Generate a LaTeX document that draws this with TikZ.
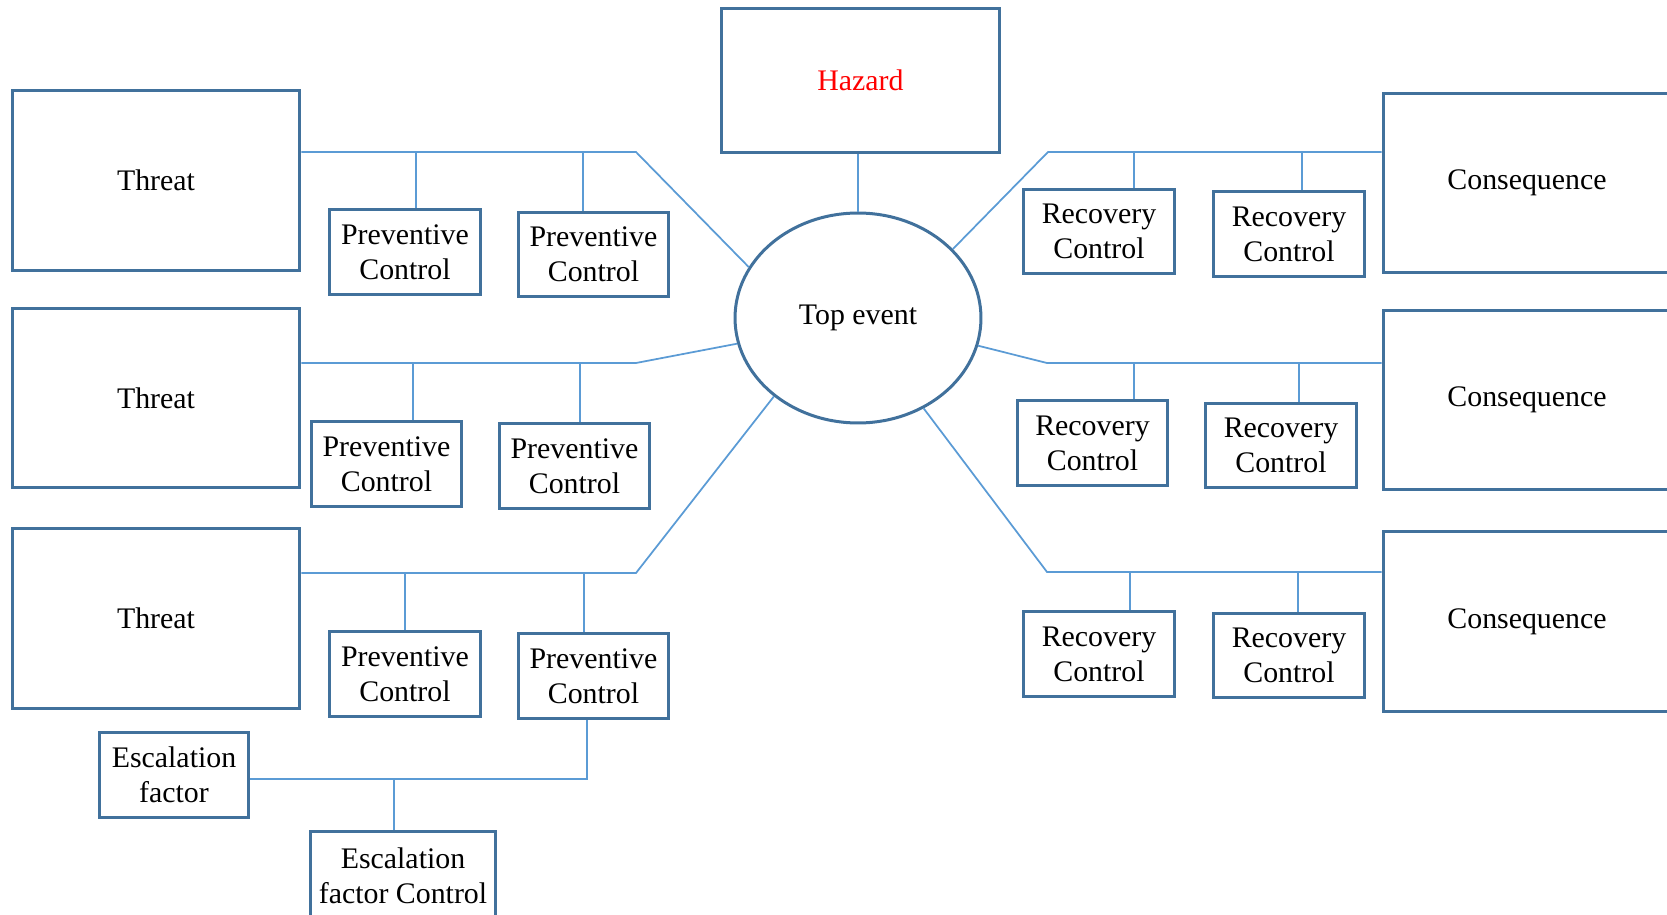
\documentclass[tikz,border=0pt]{standalone}
\usepackage{fontspec}
\setmainfont{Liberation Serif}
\usetikzlibrary{shapes.geometric}
\definecolor{boxblue}{HTML}{41719C}
\definecolor{linkblue}{HTML}{5B9BD5}
\begin{document}
\begin{tikzpicture}[x=0.02cm,y=-0.02cm,
        box/.style={draw=boxblue,line width=0.06cm,align=center,inner sep=0pt,
            font=\fontsize{17}{20}\selectfont},
        bigbox/.style={box,minimum width=5.76cm,minimum height=3.6cm},
        ctrl/.style={box,minimum width=3.02cm,minimum height=1.7cm},
        link/.style={draw=linkblue,line width=0.035cm}]
            \clip (0,0) rectangle (1667,915);
            % hazard and top event
            \node[box,minimum width=5.58cm,minimum height=2.9cm,text=red] (hazard) at (860.5,80.5) {Hazard};
            \node[box,ellipse,minimum width=4.92cm,minimum height=4.2cm] (top) at (858,318) {Top event};
            % threats
            \node[bigbox] (t1) at (156,180.5) {Threat};
            \node[bigbox] (t2) at (156,398) {Threat};
            \node[bigbox] (t3) at (156,618.5) {Threat};
            % consequences
            \node[bigbox] (c1) at (1527,183) {Consequence};
            \node[bigbox] (c2) at (1527,400) {Consequence};
            \node[bigbox] (c3) at (1527,621.5) {Consequence};
            % preventive controls
            \node[ctrl] (pc1a) at (405,252) {Preventive\\Control};
            \node[ctrl] (pc1b) at (593.5,254.5) {Preventive\\Control};
            \node[ctrl] (pc2a) at (386.5,464) {Preventive\\Control};
            \node[ctrl] (pc2b) at (574.5,466) {Preventive\\Control};
            \node[ctrl] (pc3a) at (405,674) {Preventive\\Control};
            \node[ctrl] (pc3b) at (593.5,676) {Preventive\\Control};
            % recovery controls
            \node[ctrl] (rc1a) at (1099,231.5) {Recovery\\Control};
            \node[ctrl] (rc1b) at (1289,234) {Recovery\\Control};
            \node[ctrl] (rc2a) at (1092.5,443) {Recovery\\Control};
            \node[ctrl] (rc2b) at (1281,445.5) {Recovery\\Control};
            \node[ctrl] (rc3a) at (1099,654) {Recovery\\Control};
            \node[ctrl] (rc3b) at (1289,655.5) {Recovery\\Control};
            % escalation
            \node[ctrl,minimum width=3cm] (ef) at (174,775) {Escalation\\factor};
            \node[ctrl,minimum width=3.72cm,minimum height=1.8cm] (efc) at (403,876) {Escalation\\factor Control};
            % bends and drops
            \coordinate (b1) at (636,152);
            \coordinate (b2) at (636,363);
            \coordinate (b3) at (636,573);
            \coordinate (r1) at (1048,152);
            \coordinate (r2) at (1047,363);
            \coordinate (r3) at (1047,572);
            \coordinate (d1a) at (416,152);
            \coordinate (d1b) at (583,152);
            \coordinate (d2a) at (413,363);
            \coordinate (d2b) at (580,363);
            \coordinate (d3a) at (405,573);
            \coordinate (d3b) at (584,573);
            \coordinate (e1a) at (1134,152);
            \coordinate (e1b) at (1302,152);
            \coordinate (e2a) at (1134,363);
            \coordinate (e2b) at (1299,363);
            \coordinate (e3a) at (1130,572);
            \coordinate (e3b) at (1298,572);
            \coordinate (s1) at (587,779);
            \coordinate (s2) at (394,779);
            % connectors
            \draw[link] (top.north |- hazard.south) -- (top.north);
            \draw[link] (t1.east |- b1) -- (b1) -- (top.155.8);
            \draw[link] (t2.east |- b2) -- (b2) -- (top.192.6);
            \draw[link] (t3.east |- b3) -- (b3) -- (top.223.7);
            \draw[link] (top.36.1) -- (r1) -- (c1.west |- r1);
            \draw[link] (top.347.3) -- (r2) -- (c2.west |- r2);
            \draw[link] (top.306.5) -- (r3) -- (c3.west |- r3);
            \draw[link] (d1a) -- (d1a |- pc1a.north);
            \draw[link] (d1b) -- (d1b |- pc1b.north);
            \draw[link] (d2a) -- (d2a |- pc2a.north);
            \draw[link] (d2b) -- (d2b |- pc2b.north);
            \draw[link] (d3a) -- (d3a |- pc3a.north);
            \draw[link] (d3b) -- (d3b |- pc3b.north);
            \draw[link] (e1a) -- (e1a |- rc1a.north);
            \draw[link] (e1b) -- (e1b |- rc1b.north);
            \draw[link] (e2a) -- (e2a |- rc2a.north);
            \draw[link] (e2b) -- (e2b |- rc2b.north);
            \draw[link] (e3a) -- (e3a |- rc3a.north);
            \draw[link] (e3b) -- (e3b |- rc3b.north);
            \draw[link] (s1 |- pc3b.south) -- (s1) -- (ef.east |- s1);
            \draw[link] (s2) -- (s2 |- efc.north);
        \end{tikzpicture}
\end{document}
